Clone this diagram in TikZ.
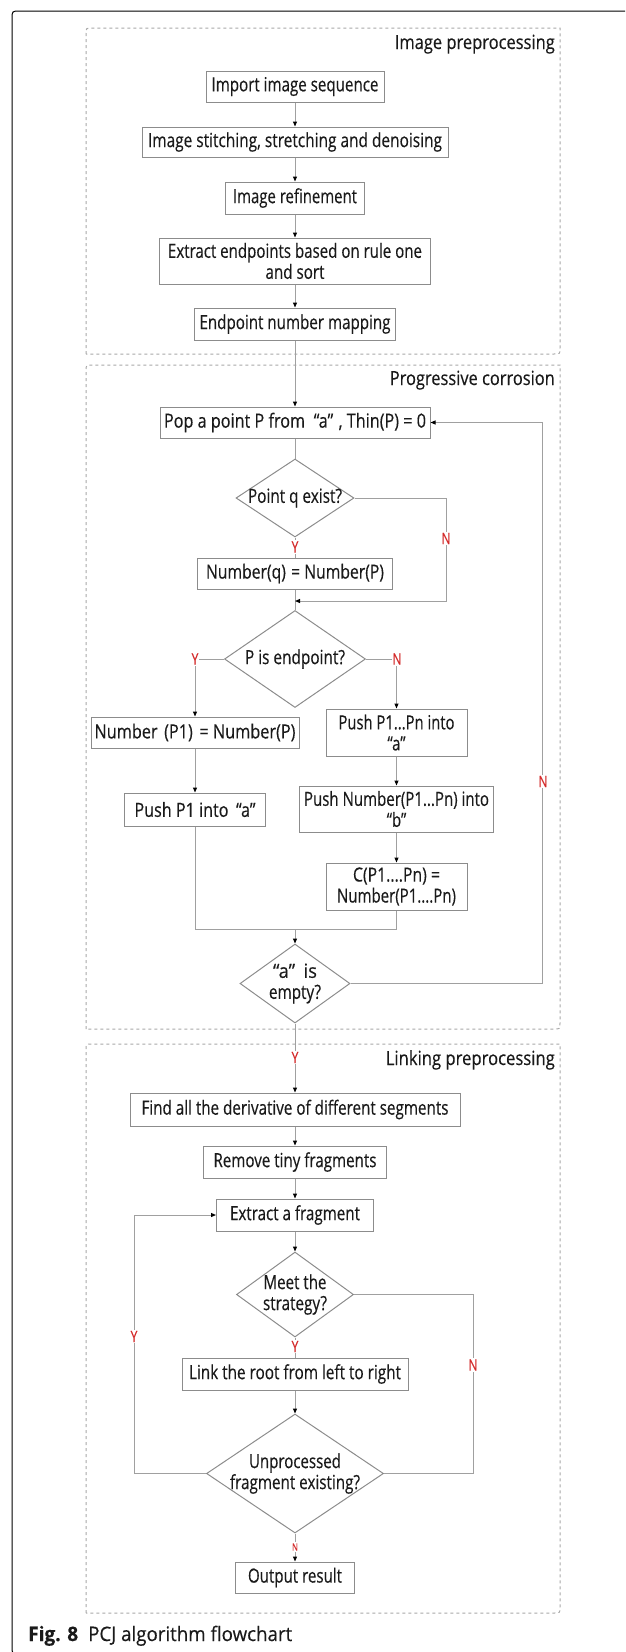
\documentclass[tikz,border=0pt]{standalone}
\usepackage{fontspec}
\usepackage{graphicx}
\setmainfont{Open Sans}[FakeStretch=0.77,FakeBold=0.3]
\usetikzlibrary{shapes.geometric,arrows.meta}
\definecolor{lineg}{HTML}{A0A0A0}
\definecolor{boxg}{HTML}{8C8C8C}
\definecolor{dashg}{HTML}{A8A8A8}
\definecolor{labred}{HTML}{D42A2A}
\definecolor{txt}{HTML}{1A1A1A}
\newcommand\tw[2]{\resizebox{#1pt}{\height}{#2}}
\tikzset{
  box/.style={draw=boxg, line width=1pt, rectangle, inner sep=0pt, align=center, text=txt, font=\fontsize{19.5}{21}\selectfont},
  dia/.style={draw=boxg, line width=1pt, diamond, inner sep=0pt},
  dtext/.style={align=center, text=txt, font=\fontsize{19.5}{21}\selectfont, inner sep=0pt},
  conn/.style={draw=lineg, line width=1pt},
  arr/.style={conn, -{Triangle[length=5pt,width=4pt,color=black]}},
  yn/.style={text=labred, fill=white, inner sep=1pt, font=\fontsize{15.5}{15}\selectfont},
  ynsmall/.style={yn, font=\fontsize{10}{10}\selectfont},
  sect/.style={draw=dashg, line width=1pt, dash pattern=on 3pt off 3pt},
  title/.style={text=txt, font=\fontsize{19.5}{21}\selectfont, inner sep=0pt, anchor=base east},
}
\begin{document}
\begin{tikzpicture}[x=1pt,y=-1pt]
\useasboundingbox (0,0) rectangle (625,1652);
\clip (0,0) rectangle (625,1652);
% outer frame
\draw[black, line width=1pt] (640,11) -- (20,11) .. controls (12,11) .. (12,19) -- (12,1646) .. controls (12,1654) .. (20,1654) -- (640,1654);
% section frames
\draw[sect] (86,354) -- (86,34) .. controls (86,28) .. (92,28) -- (560,28) -- (560,348) .. controls (560,354) .. (554,354) -- cycle;
\draw[sect] (86,1029) -- (86,371) .. controls (86,365) .. (92,365) -- (560,365) -- (560,1023) .. controls (560,1029) .. (554,1029) -- cycle;
\draw[sect] (86,1613) -- (86,1050) .. controls (86,1044) .. (92,1044) -- (560,1044) -- (560,1607) .. controls (560,1613) .. (554,1613) -- cycle;
\node[title] (t1) at (555,49) {\tw{160}{Image preprocessing}};
\node[title] (t2) at (555,385) {\tw{165}{Progressive corrosion}};
\node[title] (t3) at (555,1065) {\tw{169}{Linking preprocessing}};

% section 1
\node[box, minimum width=178pt, minimum height=31pt] (imp) at (295,86.5) {\tw{167}{Import image sequence}};
\node[box, minimum width=306pt, minimum height=30pt] (sti) at (295,142) {\tw{294}{Image stitching, stretching and denoising}};
\node[box, minimum width=139pt, minimum height=32pt] (ref) at (295,198) {\tw{124}{Image refinement}};
\node[box, minimum width=271pt, minimum height=46pt] (ext) at (295,261) {\tw{254}{Extract endpoints based on rule one}\\\tw{59}{and sort}};
\node[box, minimum width=201pt, minimum height=32pt] (endp) at (295,324) {\tw{191}{Endpoint number mapping}};

% section 2
\node[box, minimum width=270pt, minimum height=31pt] (pop) at (295,422.5) {\tw{262}{Pop a point P from\hspace{8pt}“a”\hspace{5pt}, Thin(P) = 0}};
\node[dia, minimum width=118pt, minimum height=78pt, label={[dtext]center:\tw{94}{Point q exist?}}] (dq) at (295,498) {};
\node[box, minimum width=195pt, minimum height=31pt] (numq) at (295,573.5) {\tw{178}{Number(q)\hspace{5pt}= Number(P)}};
\coordinate (j1) at (295,601);
\coordinate (qc) at (446,601);
\node[dia, minimum width=141pt, minimum height=97pt, label={[dtext]center:\tw{100}{P is endpoint?}}] (dp) at (295,659) {};
\node[box, minimum width=208pt, minimum height=31pt] (np1) at (195,732.5) {\tw{201}{Number\hspace{6pt}(P1)\hspace{6pt}= Number(P)}};
\node[box, minimum width=141pt, minimum height=47pt] (ppn) at (396.5,732.5) {\tw{116}{Push P1...Pn into}\\“a”};
\node[box, minimum width=141pt, minimum height=33pt] (pp1) at (195,809.5) {\tw{121}{Push P1 into\hspace{7pt}“a”}};
\node[box, minimum width=194pt, minimum height=46pt] (pnum) at (396.5,809) {\tw{185}{Push Number(P1...Pn) into}\\“b”};
\node[box, minimum width=141pt, minimum height=47pt] (cpn) at (396.5,886.5) {\tw{87}{C(P1....Pn) =}\\\tw{119}{Number(P1....Pn)}};
\coordinate (m1) at (295,929);
\node[dia, minimum width=110pt, minimum height=79pt, label={[dtext]center:{\tw{44}{“a”\hspace{7pt}is}\\\tw{52}{empty?}}}] (de) at (295,983.5) {};
\coordinate (lp) at (542,422.5);

% section 3
\node[box, minimum width=330pt, minimum height=33pt] (find) at (295,1109.5) {\tw{307}{Find all the derivative of different segments}};
\node[box, minimum width=183pt, minimum height=32pt] (rem) at (295,1162) {\tw{163}{Remove tiny fragments}};
\node[box, minimum width=157pt, minimum height=32pt] (exf) at (295,1215) {\tw{130}{Extract a fragment}};
\node[dia, minimum width=117pt, minimum height=85pt, label={[dtext]center:{\tw{63}{Meet the}\\\tw{64}{strategy?}}}] (dm) at (295,1294.5) {};
\node[box, minimum width=226pt, minimum height=32pt] (link) at (295,1374) {\tw{212}{Link the root from left to right}};
\node[dia, minimum width=177pt, minimum height=119pt, label={[dtext]center:{\tw{92}{Unprocessed}\\\tw{130}{fragment existing?}}}] (du) at (295,1473.5) {};
\node[box, minimum width=119pt, minimum height=31pt] (out) at (295,1577.5) {\tw{94}{Output result}};
\coordinate (lc) at (134,1215);
\coordinate (rc) at (473,1473.5);

% connectors section 1
\draw[arr] (imp) -- (sti);
\draw[arr] (sti) -- (ref);
\draw[arr] (ref) -- (ext);
\draw[arr] (ext) -- (endp);
\draw[arr] (endp) -- (pop);
% section 2
\draw[conn] (pop) -- (dq);
\draw[conn] (dq) -- (numq);
\draw[conn] (numq) -- (dp);
\draw[arr] (dq.east) -| (qc) -- (j1);
\draw[arr] (dp.west) -| (np1.north);
\draw[arr] (dp.east) -| (ppn.north);
\draw[arr] (np1) -- (pp1);
\draw[arr] (ppn) -- (pnum);
\draw[arr] (pnum) -- (cpn);
\draw[conn] (pp1.south) |- (m1) -| (cpn.south);
\draw[arr] (m1) -- (de.north);
\draw[arr] (de.east) -| (lp) -- (pop.east);
% section 3
\draw[arr] (de) -- (find);
\draw[arr] (find) -- (rem);
\draw[arr] (rem) -- (exf);
\draw[arr] (exf) -- (dm);
\draw[conn] (dm) -- (link);
\draw[arr] (link) -- (du);
\draw[arr] (du) -- (out);
\draw[arr] (du.west) -| (lc) -- (exf.west);
\draw[conn] (dm.east) -| (rc) -- (du.east);

% Y / N labels
\node[yn] (y1) at (295,547) {Y};
\node[yn] (n1) at (446,538.5) {N};
\node[yn] (y2) at (195,659) {Y};
\node[yn] (n2) at (397,659) {N};
\node[yn] (n3) at (543,781.5) {N};
\node[yn] (y3) at (295,1057.5) {Y};
\node[yn] (y4) at (134,1336.5) {Y};
\node[yn] (y5) at (295,1346.5) {Y};
\node[yn] (n4) at (473,1365) {N};
\node[ynsmall] (n5) at (295,1547) {N};

% caption
\node[anchor=base west, inner sep=0pt, text=txt, font=\fontsize{20}{22}\selectfont] (cap) at (28,1641) {\tw{50}{\textbf{Fig. 8}}\hspace{10pt}\tw{204}{PCJ algorithm flowchart}};
\end{tikzpicture}
\end{document}
